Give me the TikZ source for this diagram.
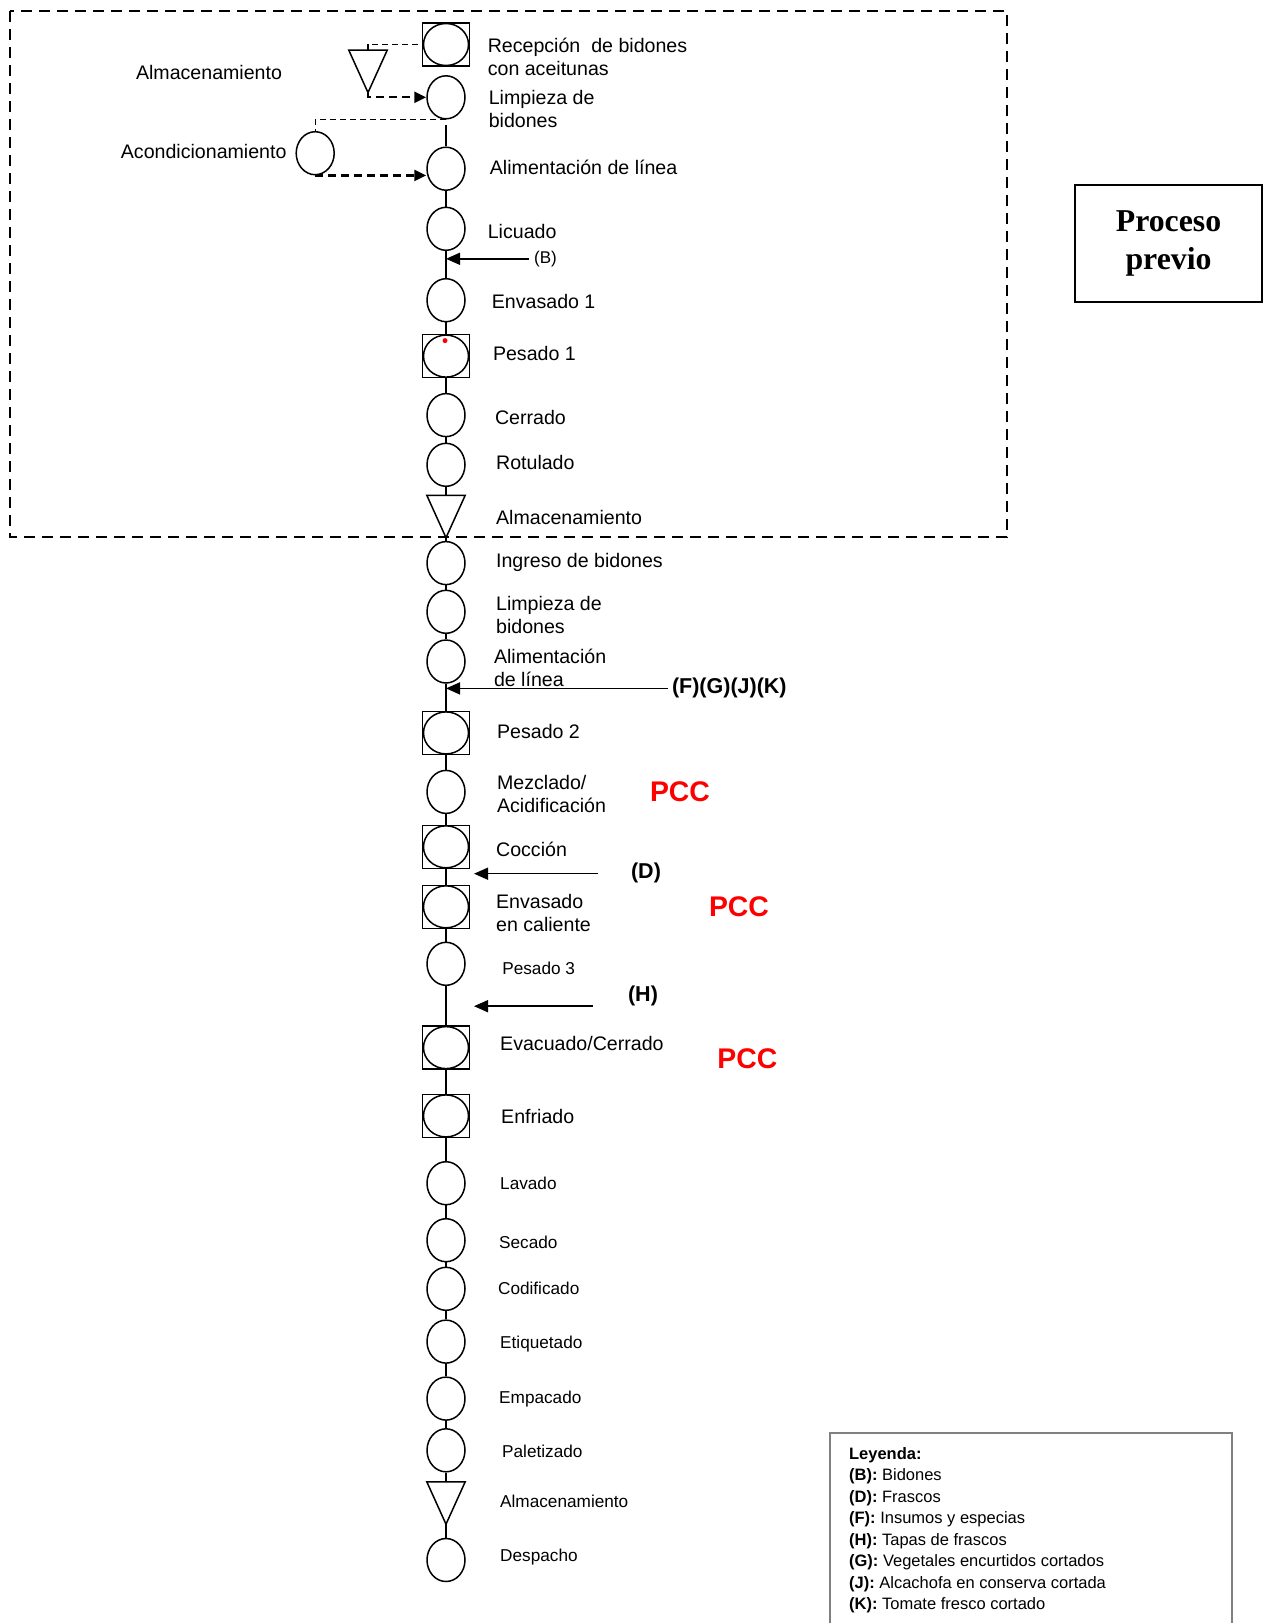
\documentclass[tikz,border=0pt]{standalone}
\usepackage{fontspec}
\setmainfont{Liberation Sans}
\newfontfamily\serifbold{Liberation Serif}
\usetikzlibrary{shapes.geometric,arrows.meta,positioning,calc}

\tikzset{
  op/.style={draw, ellipse, line width=1.5pt, minimum width=38pt,
             minimum height=43pt, inner sep=0pt},
  opbox/.style={draw, rectangle, line width=1.3pt, minimum width=47pt,
                minimum height=43pt, inner sep=0pt,
                path picture={\draw[line width=1.5pt]
                  (path picture bounding box.center) ellipse (22.5pt and 21pt);}},
  stor/.style={rectangle, minimum width=38pt, minimum height=42pt, inner sep=0pt},
  lbl/.style={anchor=west, align=left, inner sep=0pt,
              font=\fontsize{19.6}{23}\selectfont},
  slbl/.style={anchor=west, align=left, inner sep=0pt,
               font=\fontsize{17.2}{21}\selectfont},
  mat/.style={inner sep=0pt, font=\bfseries\fontsize{21.5}{24}\selectfont},
  pcc/.style={text=red, inner sep=0pt, font=\bfseries\fontsize{28.4}{30}\selectfont},
  flow/.style={line width=1.5pt},
  feed/.style={line width=1.5pt, -{Triangle[length=14pt,width=12pt]}},
  aux/.style={line width=1.3pt, dash pattern=on 6pt off 4pt},
  auxarr/.style={line width=2.3pt, dash pattern=on 8pt off 5pt,
                 -{Triangle[length=12pt,width=11pt]}}
}

\begin{document}
\begin{tikzpicture}[x=1pt,y=-1pt]
  \useasboundingbox (0,0) rectangle (1265,1623);

  % Proceso previo (dashed frame)
  \draw[line width=2pt, dash pattern=on 11pt off 7pt] (10,11) rectangle (1007,537);
  \node[draw, line width=2pt, minimum width=187pt, minimum height=117pt, align=center,
        font=\serifbold\bfseries\fontsize{31.8}{38}\selectfont] (proc) at (1168.5,243.5)
        {Proceso\\previo};

  % main column
  \node[opbox] (recep)  at (446,44.5) {};
  \node[op]    (limpA)  at (446,97.3) {};
  \node[op]    (alimA)  at (446,168.7) {};
  \node[op]    (licuado) at (446,228.8) {};
  \node[op]    (envasA) at (446,300.2) {};
  \node[opbox] (pesA)   at (446,356.1) {};
  \node[op]    (cerrado) at (446,415.1) {};
  \node[op]    (rotulado) at (446,464.8) {};
  \node[stor]  (almA)   at (446,516.5) {};
  \node[op]    (ingreso) at (446,563.1) {};
  \node[op]    (limpB)  at (446,611.8) {};
  \node[op]    (alimB)  at (446,661.5) {};
  \node[opbox] (pesB)   at (446,732.9) {};
  \node[op]    (mezclado) at (446,791.9) {};
  \node[opbox] (coccion) at (446,846.8) {};
  \node[opbox] (envcal) at (446,906.8) {};
  \node[op]    (pesC)   at (446,963.8) {};
  \node[opbox] (evacuado) at (446,1047.6) {};
  \node[opbox] (enfriado) at (446,1115.9) {};
  \node[op]    (lavado) at (446,1183.2) {};
  \node[op]    (secado) at (446,1240.2) {};
  \node[op]    (codificado) at (446,1288.8) {};
  \node[op]    (etiquetado) at (446,1341.6) {};
  \node[op]    (empacado) at (446,1398.6) {};
  \node[op]    (paletizado) at (446,1450.3) {};
  \node[stor]  (almB)   at (446,1503) {};
  \node[op]    (despacho) at (446,1560) {};
  \fill[red] (445,340.6) circle (2.5);

  % side steps
  \node[stor] (almS)  at (368,71.4) {};
  \node[op]   (acond) at (315.2,153.2) {};
  \foreach \t in {almS,almA,almB}
    \draw[line width=1.5pt] (\t.north west) -- (\t.north east) -- (\t.south) -- cycle;

  % labels
  \node[lbl] at (487.6,57) {Recepción\ \ de bidones\\con aceitunas};
  \node[lbl] at (488.6,108.6) {Limpieza de\\bidones};
  \node[lbl] at (489.7,167.7) {Alimentación de línea};
  \node[lbl] at (487.6,231.9) {Licuado};
  \node[lbl] at (491.7,301.2) {Envasado 1};
  \node[lbl] at (492.8,353) {Pesado 1};
  \node[lbl] at (494.8,417.2) {Cerrado};
  \node[lbl] at (495.9,462.7) {Rotulado};
  \node[lbl] at (495.9,517.6) {Almacenamiento};
  \node[lbl] at (495.9,562.1) {Ingreso de bidones};
  \node[lbl] at (495.9,615.4) {Limpieza de\\bidones};
  \node[lbl] at (493.8,667.7) {Alimentación\\de línea};
  \node[lbl] at (496.9,731.9) {Pesado 2};
  \node[lbl] at (496.9,793.5) {Mezclado/\\Acidificación};
  \node[lbl] at (495.9,848.9) {Cocción};
  \node[lbl] at (495.9,913) {Envasado\\en caliente};
  \node[slbl] at (502.1,967.9) {Pesado 3};
  \node[lbl] at (500,1043.5) {Evacuado/Cerrado};
  \node[lbl] at (501,1116) {Enfriado};
  \node[slbl] at (500,1183.2) {Lavado};
  \node[slbl] at (499,1242.2) {Secado};
  \node[slbl] at (497.9,1288.8) {Codificado};
  \node[slbl] at (500,1343.7) {Etiquetado};
  \node[slbl] at (499,1398.6) {Empacado};
  \node[slbl] at (502,1451.4) {Paletizado};
  \node[slbl] at (500,1501) {Almacenamiento};
  \node[slbl] at (500,1557) {Despacho};
  \node[lbl, anchor=center] at (209,72.5) {Almacenamiento};
  \node[lbl, anchor=east] at (286.7,151) {Acondicionamiento};

  % PCC marks
  \node[pcc] (pccA) at (680,791.9) {PCC};
  \node[pcc] (pccB) at (739,906.8) {PCC};
  \node[pcc] (pccC) at (747.4,1059) {PCC};

  % flow line
  \draw[flow, shorten <=5pt] (limpA) -- (alimA);
  \foreach \a/\b in {alimA/licuado,licuado/envasA,envasA/pesA,pesA/cerrado,
                     cerrado/rotulado,rotulado/almA,almA/ingreso,ingreso/limpB,
                     limpB/alimB,alimB/pesB,pesB/mezclado,mezclado/coccion,
                     coccion/envcal,envcal/pesC,pesC/evacuado,evacuado/enfriado,
                     enfriado/lavado,lavado/secado,secado/codificado,
                     codificado/etiquetado,etiquetado/empacado,empacado/paletizado,
                     paletizado/almB,almB/despacho}
    \draw[flow] (\a) -- (\b);

  % side connectors
  \draw[aux] (almS.north) |- (recep.west);
  \draw[auxarr] (almS.south) |- (limpA.west);
  \draw[aux] (limpA.south) -| (acond.north);
  \draw[auxarr] (acond.south) -- (acond.south -| alimA.west);

  % inputs
  \node[slbl, font=\fontsize{17}{20}\selectfont] (inB) at (534,258.8) {(B)};
  \draw[feed, shorten <=5pt] (inB.west) -- (inB.west -| licuado);
  \node[mat, anchor=west] (inF) at (671.8,688.4) {(F)(G)(J)(K)};
  \draw[feed, shorten <=4pt] (inF.west) -- (inF.west -| alimB);
  \node[mat] (inD) at (646,872.7) {(D)};
  \coordinate (dS) at (598,873.7);
  \coordinate (dE) at (474,873.7);
  \draw[feed] (dS) -- (dE);
  \node[mat] (inH) at (643,995.9) {(H)};
  \coordinate (hS) at (593,1006.2);
  \coordinate (hE) at (474,1006.2);
  \draw[feed] (hS) -- (hE);

  % Leyenda
  \draw[gray, line width=1.2pt] (830,1623) |- (1232,1433) -- (1232,1623);
  \node[anchor=north west, align=left, inner sep=0pt,
        font=\fontsize{16.5}{21.5}\selectfont] (leyenda) at (848.9,1447)
    {\textbf{Leyenda:}\\
     \textbf{(B):} Bidones\\
     \textbf{(D):} Frascos\\
     \textbf{(F):} Insumos y especias\\
     \textbf{(H):} Tapas de frascos\\
     \textbf{(G):} Vegetales encurtidos cortados\\
     \textbf{(J):} Alcachofa en conserva cortada\\
     \textbf{(K):} Tomate fresco cortado};
\end{tikzpicture}
\end{document}
